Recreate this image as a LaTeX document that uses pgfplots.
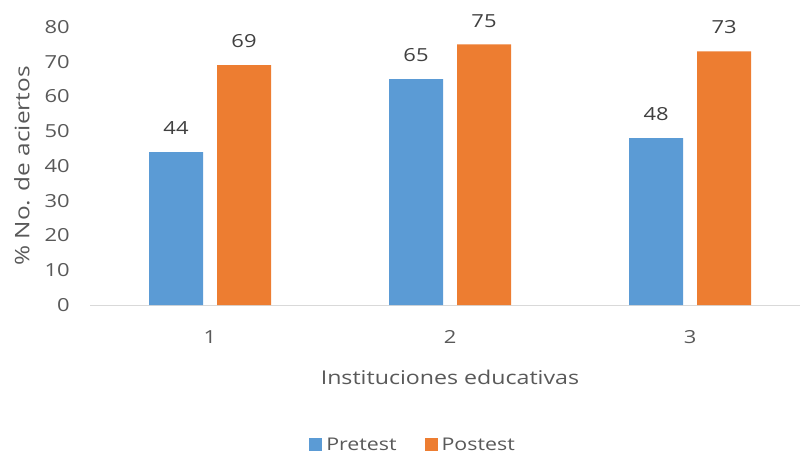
\documentclass[border=0pt]{standalone}
\usepackage{pgfplots}
\pgfplotsset{compat=1.18}
\usepackage{fontspec}
\setmainfont[FakeStretch=1.22]{Open Sans}
\definecolor{cblue}{HTML}{5B9BD5}
\definecolor{corange}{HTML}{ED7D31}
\definecolor{tgray}{HTML}{595959}
\definecolor{lgray}{HTML}{404040}
\definecolor{agray}{HTML}{D9D9D9}
\begin{document}
\fontsize{17.5}{20}\selectfont
\begin{tikzpicture}
\useasboundingbox (0,0) rectangle (800pt,456pt);
\begin{axis}[
  at={(90pt,151pt)}, anchor=south west,
  scale only axis, width=710pt, height=278pt,
  xmin=0.5, xmax=3.458, ymin=0, ymax=80,
  ybar=14pt, bar width=54pt,
  xtick={1,2,3}, ytick={0,10,...,80},
  /pgf/number format/assume math mode=true,
  axis x line*=bottom, axis y line*=left,
  x axis line style={draw=agray, line width=0.8pt, -},
  y axis line style={draw=none},
  major tick length=0pt,
  tick label style={font=\fontsize{18}{20}\selectfont, text=tgray},
  ytick style={draw=none}, xtick style={draw=none},
  yticklabel style={anchor=east, inner sep=0pt, xshift=-20pt},
  xticklabel style={anchor=north, inner sep=0pt, yshift=-25pt},
  xlabel={Instituciones educativas},
  ylabel={\% No. de aciertos},
  xlabel style={font=\fontsize{19}{20}\selectfont, text=tgray, at={(axis description cs:0.507,-0.259)}, anchor=center, inner sep=0pt},
  ylabel style={font=\fontsize{20}{22}\selectfont, text=tgray, at={(axis description cs:-0.0958,0.5)}, anchor=center, rotate=0, inner sep=0pt},
  nodes near coords,
  nodes near coords style={font=\fontsize{18}{20}\selectfont, text=lgray, anchor=south, inner sep=0pt, yshift=17pt},
  legend columns=2,
  legend style={at={(axis description cs:0.455,-0.504)}, anchor=center, draw=none, fill=none,
    font=\fontsize{17.5}{20}\selectfont, text=tgray, inner sep=0pt,
    /tikz/every odd column/.append style={column sep=2pt},
    /tikz/every even column/.append style={column sep=26pt}},
  legend image code/.code={\fill[#1] (0pt,-5.5pt) rectangle (13pt,7.5pt);},
]
\addplot[fill=cblue, draw=none] coordinates {(1,44) (2,65) (3,48)};
\addplot[fill=corange, draw=none] coordinates {(1,69) (2,75) (3,73)};
\legend{Pretest, Postest}
\end{axis}
\end{tikzpicture}
\end{document}
